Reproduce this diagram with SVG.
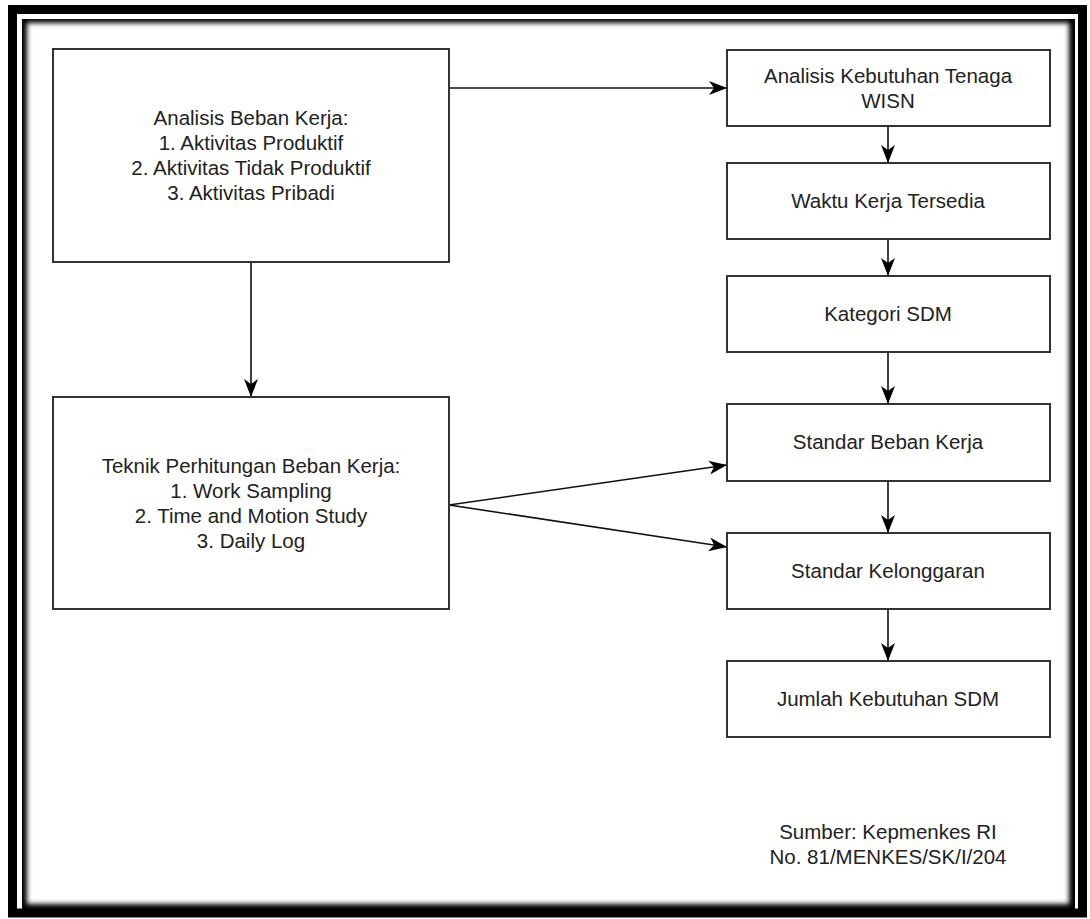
<svg xmlns="http://www.w3.org/2000/svg" width="1090" height="919" viewBox="0 0 1090 919">
<style>
.box{fill:#fff;stroke:#333;stroke-width:2}
.t{font-family:"Liberation Sans",Arial,sans-serif;font-size:20.5px;fill:#222;text-anchor:middle}
.c{fill:none;stroke:#111;stroke-width:1.6;marker-end:url(#ah)}
</style>
<defs>
<marker id="ah" markerUnits="userSpaceOnUse" markerWidth="20" markerHeight="16" refX="18" refY="7" orient="auto">
<path d="M0,0 L18,7 L0,14 L5,7 Z" fill="#000"/>
</marker>
<clipPath id="inner"><rect x="22" y="19" width="1053" height="890"/></clipPath>
<filter id="blur" x="-5%" y="-5%" width="110%" height="110%"><feGaussianBlur stdDeviation="2.5"/></filter>
</defs>
<rect width="1090" height="919" fill="#fff"/>
<g id="frame">
<rect x="12.5" y="9.5" width="1070" height="903.5" fill="none" stroke="#000" stroke-width="9"/>
<g clip-path="url(#inner)">
<rect x="22" y="19" width="1053" height="890" fill="#000"/>
<rect x="27" y="23" width="1042" height="881" fill="#fff" filter="url(#blur)"/>
</g>
</g>
<g id="connectors">
<line class="c" x1="449" y1="88" x2="727" y2="88"/>
<line class="c" x1="251" y1="262" x2="251" y2="397"/>
<line class="c" x1="449" y1="505" x2="727" y2="465"/>
<line class="c" x1="449" y1="505" x2="727" y2="547"/>
<line class="c" x1="888" y1="126" x2="888" y2="163"/>
<line class="c" x1="888" y1="239" x2="888" y2="276"/>
<line class="c" x1="888" y1="352" x2="888" y2="404"/>
<line class="c" x1="888" y1="481" x2="888" y2="533"/>
<line class="c" x1="888" y1="609" x2="888" y2="661"/>
</g>
<g id="n-analisis-beban">
<rect class="box" x="53" y="49" width="396" height="213"/>
<text class="t" x="251" y="125">Analisis Beban Kerja:</text>
<text class="t" x="251" y="150">1. Aktivitas Produktif</text>
<text class="t" x="251" y="175">2. Aktivitas Tidak Produktif</text>
<text class="t" x="251" y="200">3. Aktivitas Pribadi</text>
</g>
<g id="n-teknik">
<rect class="box" x="53" y="397" width="396" height="212"/>
<text class="t" x="251" y="473">Teknik Perhitungan Beban Kerja:</text>
<text class="t" x="251" y="498">1. Work Sampling</text>
<text class="t" x="251" y="523">2. Time and Motion Study</text>
<text class="t" x="251" y="548">3. Daily Log</text>
</g>
<g id="n-wisn">
<rect class="box" x="727" y="50" width="323" height="76"/>
<text class="t" x="888" y="83">Analisis Kebutuhan Tenaga</text>
<text class="t" x="888" y="108">WISN</text>
</g>
<g id="n-waktu">
<rect class="box" x="727" y="163" width="323" height="76"/>
<text class="t" x="888" y="208">Waktu Kerja Tersedia</text>
</g>
<g id="n-kategori">
<rect class="box" x="727" y="276" width="323" height="76"/>
<text class="t" x="888" y="321">Kategori SDM</text>
</g>
<g id="n-standar-beban">
<rect class="box" x="727" y="404" width="323" height="77"/>
<text class="t" x="888" y="449">Standar Beban Kerja</text>
</g>
<g id="n-kelonggaran">
<rect class="box" x="727" y="533" width="323" height="76"/>
<text class="t" x="888" y="578">Standar Kelonggaran</text>
</g>
<g id="n-jumlah">
<rect class="box" x="727" y="661" width="323" height="76"/>
<text class="t" x="888" y="706">Jumlah Kebutuhan SDM</text>
</g>
<g id="source">
<text class="t" x="888" y="839">Sumber: Kepmenkes RI</text>
<text class="t" x="888" y="864">No. 81/MENKES/SK/I/204</text>
</g>
</svg>
